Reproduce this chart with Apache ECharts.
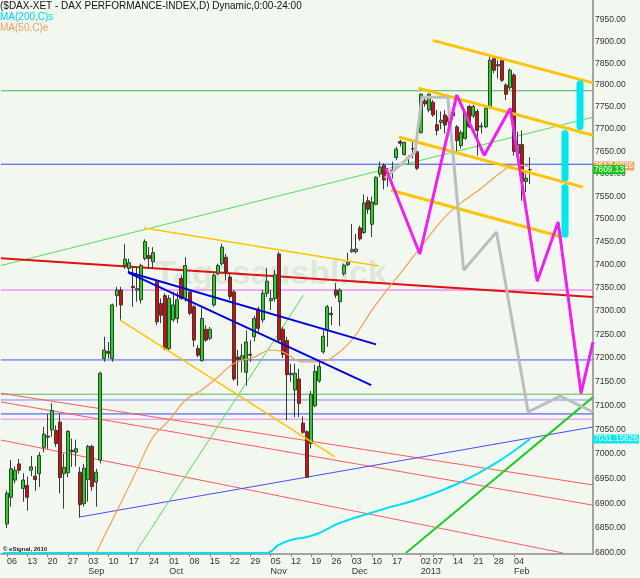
<!DOCTYPE html>
<html><head><meta charset="utf-8">
<script src="https://cdn.jsdelivr.net/npm/echarts@6/dist/echarts.min.js"></script>
<style>html,body{margin:0;padding:0;background:#F2F7F0}#c{width:640px;height:578px}</style>
</head><body><div id="c"></div><script>
// ---------- DATA ----------
const tradingDays = {
  '2012-08': [3,6,7,8,9,10,13,14,15,16,17,20,21,22,23,24,27,28,29,30,31],
  '2012-09': [3,4,5,6,7,10,11,12,13,14,17,18,19,20,21,24,25,26,27,28],
  '2012-10': [1,2,3,4,5,8,9,10,11,12,15,16,17,18,19,22,23,24,25,26,29,30,31],
  '2012-11': [1,2,5,6,7,8,9,12,13,14,15,16,19,20,21,22,23,26,27,28,29,30],
  '2012-12': [3,4,5,6,7,10,11,12,13,14,17,18,19,20,21,27,28],
  '2013-01': [2,3,4,7,8,9,10,11,14,15,16,17,18,21,22,23,24,25,28,29,30,31],
  '2013-02': [1,4,5,6,7,8,11,12,13,14,15,18,19,20,21,22,25,26,27,28],
  '2013-03': [1]
};
// [open, close, low, high] from 2012-08-06 to 2013-02-08
const candles = [
[6858,6920,6850,6926],[6912,6970,6893,6988],[6947,6967,6940,6975],[6980,6967,6960,6990],[6930,6947,6903,6961],
[6936,6912,6885,6954],[6967,6974,6955,6996],[6955,6948,6925,6975],[6960,6997,6933,7004],[7014,7041,7004,7056],
[7037,7035,7011,7083],[7050,7090,7036,7105],[7049,7022,7015,7059],[7066,6952,6920,7083],[6960,6973,6889,7001],
[6962,7047,6953,7049],[7008,7005,6974,7032],[7004,7011,6975,7030],[6963,6897,6871,6974],[6899,6971,6893,6980],
[6948,7016,6903,7019],[7016,6934,6925,7019],[6943,6963,6893,6970],[6988,7168,6981,7171],[7199,7217,7192,7245],
[7214,7210,7199,7234],[7199,7313,7192,7316],[7333,7345,7309,7352],[7345,7313,7281,7352],[7398,7412,7391,7445],
[7392,7404,7384,7413],[7353,7350,7309,7395],[7345,7348,7320,7395],[7324,7398,7316,7402],[7413,7450,7409,7455],
[7420,7413,7391,7438],[7406,7426,7391,7438],[7363,7277,7270,7366],[7316,7291,7274,7327],[7333,7220,7217,7338],
[7220,7327,7217,7334],[7281,7313,7277,7341],[7284,7324,7274,7341],[7370,7327,7324,7377],[7327,7398,7320,7416],
[7341,7295,7291,7345],[7309,7238,7224,7313],[7220,7206,7202,7227],[7195,7284,7192,7306],[7261,7238,7234,7270],
[7242,7261,7238,7266],[7313,7377,7309,7381],[7381,7398,7377,7402],[7402,7438,7398,7445],[7416,7384,7366,7423],
[7373,7331,7324,7381],[7341,7156,7152,7345],[7202,7197,7142,7217],[7195,7205,7170,7230],[7170,7234,7142,7259],
[7208,7206,7192,7238],[7245,7284,7235,7290],[7304,7263,7256,7309],[7281,7338,7275,7345],[7338,7364,7330,7393],
[7322,7327,7302,7345],[7327,7378,7320,7388],[7423,7238,7234,7428],[7261,7208,7200,7266],[7237,7165,7070,7245],
[7165,7168,7150,7188],[7133,7168,7076,7188],[7156,7105,7076,7177],[7064,7045,7042,7078],[7046,6953,6951,7049],
[7022,7124,7012,7131],[7100,7172,7097,7186],[7152,7182,7148,7192],[7213,7246,7209,7259],[7259,7309,7224,7313],
[7295,7292,7270,7309],[7345,7334,7328,7360],[7320,7345,7268,7349],[7380,7399,7376,7402],[7400,7405,7396,7426],
[7428,7433,7426,7489],[7428,7434,7424,7467],[7480,7456,7452,7485],[7470,7535,7467,7554],[7540,7521,7511,7549],
[7488,7537,7460,7549],[7532,7592,7530,7594],[7599,7615,7593,7627],[7619,7586,7565,7623],[7600,7602,7571,7612],
[7606,7608,7589,7627],[7636,7655,7630,7660],[7672,7668,7661,7676],[7643,7670,7640,7672],[7636,7635,7622,7641],
[7655,7656,7634,7674],[7649,7612,7608,7652],[7692,7779,7690,7781],[7764,7757,7751,7773],[7743,7779,7738,7781],
[7761,7732,7728,7766],[7710,7697,7686,7743],[7715,7720,7700,7740],[7732,7709,7690,7743],[7728,7717,7700,7732],
[7738,7730,7722,7743],[7705,7674,7645,7709],[7663,7692,7656,7697],[7679,7736,7676,7740],[7751,7705,7702,7755],
[7730,7751,7725,7755],[7740,7697,7640,7745],[7705,7707,7690,7715],[7705,7747,7702,7751],[7751,7857,7747,7865],
[7861,7834,7827,7865],[7844,7847,7815,7857],[7857,7811,7807,7861],[7800,7779,7766,7804],[7794,7834,7789,7838],
[7823,7650,7640,7827],[7645,7665,7641,7694],[7665,7583,7540,7697],[7583,7590,7559,7600],[7609,7609.13,7577,7637]
];
const lastPrice = 7609.13, ma50Last = 7617.0026, ma200Last = 7031.15826;
// moving averages, [trading-day index (0 = 2012-08-03), value]
const ma50 = [[20,6740],[23,6800],[27,6866],[33,6967],[37,7035],[41,7070],[45,7112],[49,7133],[53,7160],[57,7189],[62,7202],[66,7217],[69,7213],[74,7192],[78,7192],[81,7200],[86,7238],[91,7302],[96,7360],[98,7381],[103,7438],[110,7513],[118,7568],[123,7604],[126,7619],[130,7617.0026]];
const ma200 = [[0,6800],[65,6800],[68,6816],[71,6826],[75,6832],[78,6840],[83,6860],[93,6886],[103,6910],[113,6943],[122,6984],[130,7031.15826]];
// drawn trend lines, [trading-day index, price]
const greenLong = [[-0.5,7398],[145.5,7727]];
const greenSteep = [[32.6,6800],[74.1,7334]];
const greenThick = [[99.35,6800],[145.5,7118]];
const redThick = [[-0.5,7414],[145.5,7330]];
const redThin1 = [[-0.5,7126],[145.5,6937]];
const redThin2 = [[-0.5,7108],[145.5,6896]];
const redThin3 = [[-0.5,7029],[138.1,6800]];
const blueSupport = [[18.8,6872],[145.5,7056]];
const blueTrend1 = [[30.8,7384],[92.0,7229]];
const blueTrend2 = [[31.0,7382],[90.8,7143]];
const goldUpper = [[34.8,7480],[92.7,7397]];
const goldLower = [[28.8,7281],[81.8,6995]];
const goldCh1 = [[106.0,7903],[145.5,7805]];
const goldCh2 = [[102.5,7793],[145.5,7686]];
const goldCh3 = [[97.6,7682],[143.0,7570]];
const goldCh4 = [[95.7,7563],[137.9,7460]];
const levelLines = [[7787,'#4CAF50'],[7621,'#3344FF'],[7345,'#F060F0'],[7196,'#4455FF'],[7124,'#55BB55'],[7112,'#8888FF'],[7083,'#3344FF'],[7072,'#F080F0']];
const magentaPath = [[94.4,7612],[102.8,7423],[111.9,7777],[118.7,7641],[125.1,7747],[131.75,7364],[136.9,7493],[142.55,7126],[145.5,7234]];
const greyPath = [[94.2,7590],[101.6,7648],[103.3,7772],[109.7,7772],[113.6,7388],[121.7,7471],[129.5,7087],[137.4,7120],[145.5,7087]];
const cyanBars = [[[142.3,7803],[142.3,7706]],[[138.6,7690],[138.6,7591]],[[138.6,7569],[138.6,7466]]];
const yTicks = [6800,6850,6900,6950,7000,7050,7100,7150,7200,7250,7300,7350,7400,7450,7500,7550,7600,7650,7700,7750,7800,7850,7900,7950];
const tickDates = ['2012-08-06','2012-08-13','2012-08-20','2012-08-27','2012-09-03','2012-09-10','2012-09-17','2012-09-24','2012-10-01','2012-10-08','2012-10-15','2012-10-22','2012-10-29','2012-11-05','2012-11-12','2012-11-19','2012-11-26','2012-12-03','2012-12-10','2012-12-17','2013-01-02','2013-01-07','2013-01-14','2013-01-21','2013-01-28','2013-02-04'];
const monthMarks = {'2012-09-03':'Sep','2012-10-01':'Oct','2012-11-05':'Nov','2012-12-03':'Dec','2013-01-02':'2013','2013-02-04':'Feb'};

// ---------- BUILD ----------
const categories = [];
Object.keys(tradingDays).forEach(m => tradingDays[m].forEach(d => categories.push(m + '-' + String(d).padStart(2,'0'))));
const candleData = ['-'].concat(candles);
const tickSet = new Set(tickDates);

function seg(data, color, width, z, extra) {
  return Object.assign({type:'line', xAxisIndex:1, yAxisIndex:0, data, symbol:'none', silent:true,
    lineStyle:{color, width}, z: z || 3, animation:false}, extra || {});
}
const FONT = 'Liberation Sans, Arial, sans-serif';
function valueTag(v, bg, z) {
  return {symbol:'none', silent:true, animation:false, z: z,
    lineStyle:{color:'rgba(0,0,0,0)', width:1, type:'solid'},
    label:{show:true, position:'end', distance:0, formatter:String(v), backgroundColor:bg, color:'#fff',
      fontSize:8.3, fontFamily:FONT, padding:[1,1,0,1], lineHeight:8},
    data:[{yAxis:v}]};
}
const series = [];
levelLines.forEach(l => series.push(seg([[-0.5,l[0]],[145.5,l[0]]], l[1], 1, 1)));
series.push(seg(redThin1,'#FF5A5A',1,1), seg(redThin2,'#FF5A5A',1,1), seg(redThin3,'#FF5A5A',1,1));
series.push(seg(blueSupport,'#4A4AFF',1,1));
series.push(seg(greenLong,'#55E055',1,1), seg(greenSteep,'#55E055',1,1));
series.push(seg(redThick,'#E01010',2,1));
series.push({type:'candlestick', xAxisIndex:0, yAxisIndex:0, data:candleData, barWidth:3.5, z:2, silent:true, animation:false,
  itemStyle:{color:'#1ED81E', color0:'#D80A0A', borderColor:'#3a3a3a', borderColor0:'#3a3a3a', borderWidth:1}});
series.push(seg(ma50,'#F2A055',1.2,3,{smooth:0.4, markLine: valueTag(ma50Last,'#F4A460',10)}));
series.push(seg(ma200,'#00E0EE',2,3,{smooth:0.4, markLine: valueTag(ma200Last,'#00E8F0',10)}));
series.push(seg(greenThick,'#22CC22',2,3));
series.push(seg(blueTrend1,'#0000DD',2,3), seg(blueTrend2,'#0000DD',2,3));
series.push(seg(goldUpper,'#FFC400',1.5,3), seg(goldLower,'#FFC400',1.5,3));
series.push(seg(goldCh1,'#FFC400',3,4), seg(goldCh2,'#FFC400',3,4), seg(goldCh3,'#FFC400',3,4), seg(goldCh4,'#FFC400',3,4));
series.push(seg(greyPath,'#BDBDBD',3,4));
series.push(seg(magentaPath,'#EE22EE',3,5));
cyanBars.forEach(b => series.push(seg(b,'#00E6F0',7,5,{lineStyle:{color:'#00E6F0', width:7, cap:'round'}})));
// last price tag drawn last so it sits on top
series.push(seg([[-0.5,lastPrice],[145.5,lastPrice]],'rgba(0,0,0,0)',0,6,{markLine: valueTag(lastPrice,'#12C812',11)}));

const chart = echarts.init(document.getElementById('c'), null, {renderer:'canvas'});
chart.setOption({
  animation:false,
  backgroundColor:'#F2F7F0',
  grid:{left:-1.8, right:47, top:0, bottom:24, containLabel:false},
  xAxis:[
    {type:'category', data:categories, boundaryGap:true,
     axisLine:{show:true, onZero:false, lineStyle:{color:'#8a8a8a', width:1.5}},
     axisTick:{show:true, alignWithLabel:true, length:3, interval:(i,v)=>tickSet.has(v), lineStyle:{color:'#8a8a8a'}},
     axisLabel:{interval:0, align:'left', margin:3, fontSize:9, lineHeight:10, color:'#333', fontFamily:FONT,
       formatter:(v)=> tickSet.has(v) ? (v.slice(8) + (monthMarks[v] ? '\n' + monthMarks[v] : '')) : ''},
     splitLine:{show:false}},
    {type:'value', min:-0.5, max:145.5, show:false}
  ],
  yAxis:[{type:'log', logBase:10, min:6798, max:7997, position:'right',
    axisLine:{show:true, onZero:false, lineStyle:{color:'#8a8a8a', width:1.5}},
    axisTick:{show:false}, splitLine:{show:false}, minorTick:{show:false},
    axisLabel:{customValues:yTicks, formatter:(v)=>Number(v).toFixed(2), fontSize:8.5, color:'#333', margin:2, fontFamily:FONT}}],
  graphic:[
    {type:'text', left:155, top:258, z:0, silent:true, style:{text:'Tagesausblick', font:'bold 34px '+FONT, fill:'rgba(205,220,200,0.55)'}},
    {type:'text', left:0, top:1, silent:true, z:10, style:{text:'($DAX-XET - DAX PERFORMANCE-INDEX,D) Dynamic,0:00-24:00', font:'10px '+FONT, fill:'#111'}},
    {type:'text', left:0, top:12, silent:true, z:10, style:{text:'MA(200,C)s', font:'10px '+FONT, fill:'#00D8E8'}},
    {type:'text', left:0, top:23, silent:true, z:10, style:{text:'MA(50,C)e', font:'10px '+FONT, fill:'#F0A060'}},
    {type:'text', left:3, top:546, silent:true, z:10, style:{text:'© eSignal, 2010', font:'bold 6px '+FONT, fill:'#222'}}
  ],
  series
});
</script></body></html>
